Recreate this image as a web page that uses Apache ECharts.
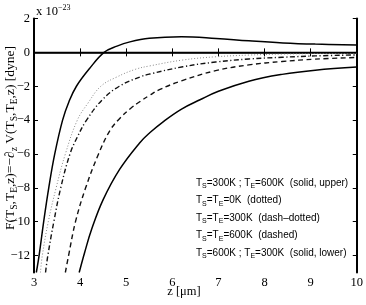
<!DOCTYPE html>
<html><head><meta charset="utf-8">
<script src="https://cdn.jsdelivr.net/npm/echarts@6/dist/echarts.min.js"></script>
<style>html,body{margin:0;padding:0;background:#fff}#c{width:366px;height:305px}</style>
</head><body><div id="c"></div>
<script>
const xTicks = [3,4,5,6,7,8,9,10];
const yTicks = [2,0,-2,-4,-6,-8,-10,-12];

// Ts=300K ; Te=600K (solid, upper)
const zUpper = [3.05,3.11,3.21,3.32,3.45,3.62,3.76,3.92,4.2,4.52,4.8,5.08,5.5,6.2,6.95,7.66,8.4,9.1,10];
const fUpper = [-13,-12,-10,-8,-6,-4,-2.9,-2.0,-0.97,0,0.37,0.62,0.83,0.92,0.82,0.68,0.56,0.49,0.44];
// Ts=Te=0K (dotted)
const zDotted = [3.14,3.18,3.31,3.48,3.68,3.94,4.17,4.45,4.8,5.2,5.51,6.23,6.94,7.66,8.4,9.1,10];
const fDotted = [-13,-12,-10,-8,-6,-4,-3,-2,-1.45,-1.0,-0.8,-0.45,-0.26,-0.16,-0.1,-0.07,-0.05];
// Ts=Te=300K (dash-dotted)
const zDashDot = [3.25,3.3,3.43,3.58,3.78,3.94,4.14,4.48,4.85,5.3,5.51,6.23,6.94,7.66,8.38,9.1,10];
const fDashDot = [-13,-12,-10,-8,-6,-5,-4,-2.8,-2.0,-1.45,-1.28,-0.85,-0.57,-0.39,-0.29,-0.21,-0.15];
// Ts=Te=600K (dashed)
const zDashed = [3.68,3.75,3.9,4.12,4.4,4.65,4.86,5.1,5.3,5.51,5.72,6.2,6.94,7.66,8.38,9.1,10];
const fDashed = [-13,-12,-10,-8,-6,-4.6,-3.9,-3.3,-2.9,-2.53,-2.2,-1.68,-1.08,-0.74,-0.54,-0.4,-0.3];
// Ts=600K ; Te=300K (solid, lower)
const zLower = [3.98,4.1,4.25,4.5,4.86,5.29,5.51,5.8,6.2,6.6,7.0,7.66,8.38,9.1,10];
const fLower = [-13,-11.8,-10.45,-8.7,-6.9,-5.35,-4.75,-4.1,-3.35,-2.8,-2.3,-1.7,-1.3,-1.05,-0.87];

const legendLines = [
  'T{s|S}=300K ; T{s|E}=600K  (solid, upper)',
  'T{s|S}=T{s|E}=0K  (dotted)',
  'T{s|S}=T{s|E}=300K  (dash\u2013dotted)',
  'T{s|S}=T{s|E}=600K  (dashed)',
  'T{s|S}=600K ; T{s|E}=300K  (solid, lower)'
];

const zip = (a, b) => a.map((v, i) => [v, b[i]]);
const serif = '"Liberation Serif","DejaVu Serif",serif';
const sans = '"Liberation Sans","DejaVu Sans",sans-serif';
const fmt = v => v < 0 ? '\u2212' + (-v) : String(v);

const chart = echarts.init(document.getElementById('c'), null, {renderer: 'canvas'});

function lineSeries(name, z, f, style) {
  return {
    name, type: 'line', data: zip(z, f), showSymbol: false, symbol: 'none',
    smooth: 0.4, clip: true, animation: false,
    lineStyle: style, xAxisIndex: 0, yAxisIndex: 0
  };
}

const tickCommon = {show: true, inside: true, length: 4, lineStyle: {color: '#000', width: 1}};

const option = {
  animation: false,
  backgroundColor: '#fff',
  grid: {left: 34, right: 8.5, top: 18.5, bottom: 32.5, containLabel: false},
  xAxis: [
    {type: 'value', position: 'bottom', min: 3, max: 10, interval: 1,
     axisLine: {show: true, lineStyle: {color: '#000', width: 1.6}},
     axisTick: tickCommon, splitLine: {show: false},
     axisLabel: {color: '#000', fontFamily: serif, fontSize: 12.5, margin: 4}},
    {type: 'value', position: 'top', min: 3, max: 10, interval: 1,
     axisLine: {show: true, lineStyle: {color: '#000', width: 1}},
     axisTick: tickCommon, splitLine: {show: false}, axisLabel: {show: false}}
  ],
  yAxis: [
    {type: 'value', position: 'left', min: -13, max: 2,
     axisLine: {show: true, onZero: false, lineStyle: {color: '#000', width: 2}},
     axisTick: Object.assign({}, tickCommon, {customValues: yTicks}),
     splitLine: {show: false},
     axisLabel: {color: '#000', fontFamily: serif, fontSize: 12.5, margin: 4,
                 customValues: yTicks, formatter: fmt}},
    {type: 'value', position: 'right', min: -13, max: 2,
     axisLine: {show: true, onZero: false, lineStyle: {color: '#000', width: 2}},
     axisTick: Object.assign({}, tickCommon, {customValues: yTicks}),
     splitLine: {show: false}, axisLabel: {show: false}}
  ],
  series: [
    Object.assign(lineSeries('upper', zUpper, fUpper, {color: '#000', width: 1.5, type: 'solid'}), {
      markLine: {silent: true, symbol: 'none', animation: false, label: {show: false},
                 lineStyle: {color: '#000', width: 1.3, type: 'solid'}, data: [{yAxis: 0}]}
    }),
    lineSeries('dotted', zDotted, fDotted, {color: '#888', width: 1, type: [1, 2]}),
    lineSeries('dashdot', zDashDot, fDashDot, {color: '#111', width: 1.4, type: [5, 2.5, 1.2, 2.5]}),
    lineSeries('dashed', zDashed, fDashed, {color: '#111', width: 1.4, type: [5, 3.5]}),
    lineSeries('lower', zLower, fLower, {color: '#000', width: 1.5, type: 'solid'})
  ],
  graphic: [
    {type: 'text', left: 36, top: 4, silent: true,
     style: {text: 'x 10{p|\u221223}', fill: '#000', font: '12.5px ' + serif, lineHeight: 16,
             rich: {p: {fontSize: 8, fontFamily: serif, verticalAlign: 'top', lineHeight: 8, fill: '#000'}}}},
    {type: 'text', x: 10, y: 138, rotation: Math.PI / 2, silent: true,
     style: {text: 'F(T{s|S},T{s|E},z)=\u2212\u2202{s|z} V(T{s|S},T{s|E},z) [dyne]', fill: '#000',
             font: '13.5px ' + serif, align: 'center', verticalAlign: 'middle', lineHeight: 18,
             rich: {s: {fontSize: 9.5, fontFamily: serif, verticalAlign: 'bottom', lineHeight: 8, fill: '#000'}}}},
    {type: 'text', x: 184, y: 292, silent: true,
     style: {text: 'z [\u03bcm]', fill: '#000', font: '12.5px ' + serif, align: 'center', verticalAlign: 'middle'}}
  ].concat(legendLines.map((t, i) => ({
    type: 'text', x: 196, y: 183 + i * 17.5, silent: true,
    style: {text: t, fill: '#000', font: '10px ' + sans, verticalAlign: 'middle', lineHeight: 14,
            rich: {s: {fontSize: 7, fontFamily: sans, verticalAlign: 'bottom', lineHeight: 6, fill: '#000'}}}
  })))
};
chart.setOption(option);
</script></body></html>
